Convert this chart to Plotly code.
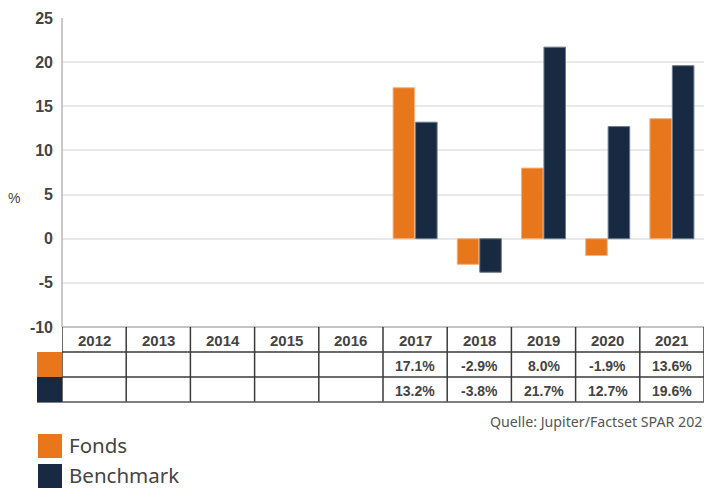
import plotly.graph_objects as go

years = ["2012", "2013", "2014", "2015", "2016", "2017", "2018", "2019", "2020", "2021"]
fonds = [None, None, None, None, None, 17.1, -2.9, 8.0, -1.9, 13.6]
benchmark = [None, None, None, None, None, 13.2, -3.8, 21.7, 12.7, 19.6]
series_names = ["Fonds", "Benchmark"]
colors = ["#E8761A", "#182A42"]
line_colors = ["#F5B27E", "#6B7A8F"]
y_ticks = [-10, -5, 0, 5, 10, 15, 20, 25]
y_tick_labels = ["-10", "-5", "0", "5", "10", "15", "20", "25"]
source_text = "Quelle: Jupiter/Factset SPAR 202"

W, H = 704, 488
def px(x):
    return x / W
def py(y):
    return 1 - y / H

PLOT_L, PLOT_T, PLOT_B = 62, 18, 327
ROW_H = 25

fig = go.Figure()
for name, vals, c, lc in zip(series_names, [fonds, benchmark], colors, line_colors):
    fig.add_trace(go.Bar(x=years, y=vals, name=name, marker=dict(color=c, line=dict(color=lc, width=1)),
                         showlegend=False))

shapes = []
annotations = []

def ann(**kw):
    kw.setdefault("showarrow", False)
    kw.setdefault("yanchor", "middle")
    kw.setdefault("xanchor", "center")
    annotations.append(kw)

# y axis line
shapes.append(dict(type="line", xref="paper", yref="paper", x0=px(PLOT_L), x1=px(PLOT_L),
                   y0=py(PLOT_T), y1=py(PLOT_B), line=dict(color="#b8b8b8", width=1.5)))
# table top line
shapes.append(dict(type="line", xref="paper", yref="paper", x0=px(PLOT_L), x1=1,
                   y0=py(PLOT_B), y1=py(PLOT_B), line=dict(color="#b0b0b0", width=1.5)))
# table vertical lines
for i in range(len(years) + 1):
    shapes.append(dict(type="line", xref="x", yref="paper", x0=i - 0.5, x1=i - 0.5,
                       y0=py(PLOT_B), y1=py(PLOT_B + 3 * ROW_H), line=dict(color="#3a3a3a", width=1.5)))
# horizontal lines
for r in (1, 2):
    shapes.append(dict(type="line", xref="paper", yref="paper", x0=px(PLOT_L), x1=1,
                       y0=py(PLOT_B + r * ROW_H), y1=py(PLOT_B + r * ROW_H),
                       line=dict(color="#3a3a3a", width=1.5)))
shapes.append(dict(type="line", xref="paper", yref="paper", x0=px(37), x1=1,
                   y0=py(PLOT_B + 3 * ROW_H), y1=py(PLOT_B + 3 * ROW_H),
                   line=dict(color="#555555", width=1.5)))
# swatches in table
for r, c in enumerate(colors):
    shapes.append(dict(type="rect", xref="paper", yref="paper", x0=px(37), x1=px(PLOT_L),
                       y0=py(PLOT_B + (r + 2) * ROW_H), y1=py(PLOT_B + (r + 1) * ROW_H),
                       fillcolor=c, line=dict(width=0), layer="above"))

# table texts
for i, yr in enumerate(years):
    ann(x=i, y=py(PLOT_B + ROW_H / 2 + 1), xref="x", yref="paper", text=yr,
        font=dict(family="Liberation Sans", size=15, color="#444444", weight="bold"))
    for r, vals in enumerate([fonds, benchmark]):
        v = vals[i]
        if v is None:
            continue
        ann(x=i, y=py(PLOT_B + (r + 1.5) * ROW_H + 1), xref="x", yref="paper",
            text=f"{v:.1f}%", font=dict(family="Liberation Sans", size=14, color="#444444", weight="bold"))

# % label
ann(x=px(14), y=py(198), xref="paper", yref="paper", text="%",
    font=dict(family="Liberation Sans", size=14, color="#444444"))
# source
ann(x=px(704), y=py(421), xref="paper", yref="paper", text=source_text, xanchor="right",
    font=dict(family="Noto Sans", size=14.2, color="#555555"))
# legend
for k, (name, c) in enumerate(zip(series_names, colors)):
    top = 434 + k * 30
    shapes.append(dict(type="rect", xref="paper", yref="paper", x0=px(38), x1=px(62),
                       y0=py(top + 24), y1=py(top), fillcolor=c, line=dict(width=0)))
    ann(x=px(67), y=py(top + 11), xref="paper", yref="paper", text=name, xanchor="left",
        font=dict(family="Noto Sans", size=20.5, color="#444444"))

fig.update_layout(
    width=W, height=H,
    margin=dict(l=0, r=0, t=0, b=0),
    paper_bgcolor="white", plot_bgcolor="white",
    barmode="group", bargap=0.3, bargroupgap=0.04,
    xaxis=dict(domain=[px(PLOT_L), 1], range=[-0.5, len(years) - 0.5], showticklabels=False,
               showgrid=False, zeroline=False, showline=False, fixedrange=True, automargin=False),
    yaxis=dict(domain=[py(PLOT_B), py(PLOT_T)], range=[-10, 25], tickvals=y_ticks, ticktext=y_tick_labels,
               showgrid=True, gridcolor="#e9e9e9", gridwidth=1.5, zeroline=True, zerolinecolor="#e9e9e9",
               zerolinewidth=1.5, showline=False, automargin=False, ticks="", ticklabelstandoff=8,
               tickfont=dict(family="Liberation Sans", size=16, color="#444444", weight="bold")),
    shapes=shapes, annotations=annotations,
)

fig.write_html("out.html")
